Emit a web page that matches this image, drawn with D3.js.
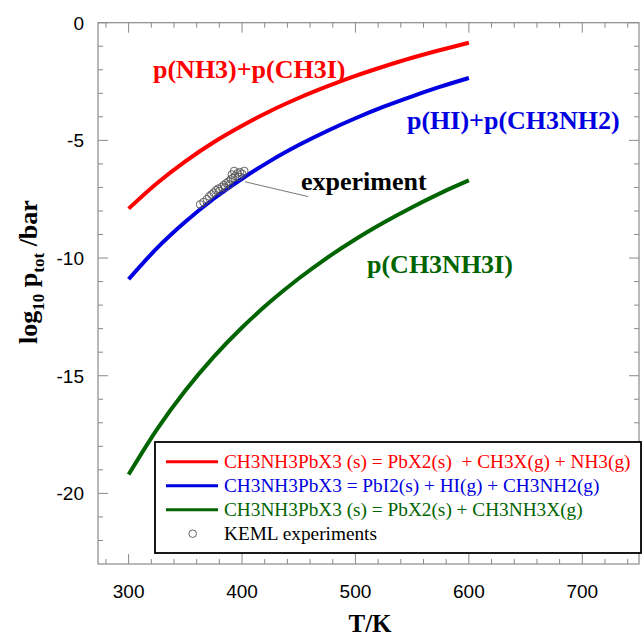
<!DOCTYPE html>
<html>
<head>
<meta charset="utf-8">
<script src="https://cdn.jsdelivr.net/npm/d3@7"></script>
<style>
  body { margin: 0; background: #fff; }
  svg { display: block; }
  .tick-label { font-family: "Liberation Sans", Arial, sans-serif; font-size: 19px; fill: #000; }
  .serif { font-family: "Liberation Serif", "Times New Roman", serif; }
</style>
</head>
<body>
<div id="chart"></div>
<script>
// temperatures (K) the model curves were read at
var temps = [300, 325, 350, 375, 400, 425, 450, 475, 500, 525, 550, 575, 600];
// log10 p / bar
var nh3Ch3i = [-7.9, -6.82, -5.89, -5.08, -4.38, -3.75, -3.2, -2.71, -2.26, -1.86, -1.49, -1.16, -0.85];
var hiCh3nh2 = [-10.9, -9.58, -8.46, -7.48, -6.63, -5.87, -5.2, -4.6, -4.06, -3.57, -3.13, -2.72, -2.35];
var ch3nh3i = [-19.2, -17.28, -15.63, -14.2, -12.95, -11.85, -10.87, -9.99, -9.2, -8.49, -7.84, -7.24, -6.7];

// KEML experiment points
var expT = [363, 366, 369, 371, 373, 375, 377, 379, 380, 382, 384, 385, 386, 388, 389, 390, 391, 392, 393, 394, 396, 397, 398, 400, 402];
var expP = [-7.72, -7.62, -7.5, -7.38, -7.3, -7.22, -7.12, -7.05, -7.15, -6.98, -6.9, -7.0, -6.82, -6.75, -6.88, -6.66, -6.45, -6.6, -6.3, -6.52, -6.4, -6.55, -6.35, -6.42, -6.3];

var xTicks = [300, 400, 500, 600, 700];
var yTicks = [0, -5, -10, -15, -20];

var legendLabels = [
  "CH3NH3PbX3 (s) = PbX2(s)  + CH3X(g) + NH3(g)",
  "CH3NH3PbX3 = PbI2(s) + HI(g) + CH3NH2(g)",
  "CH3NH3PbX3 (s) = PbX2(s) + CH3NH3X(g)",
  "KEML experiments"
];

var red = "#ff0000", blue = "#0000e0", green = "#006400";

var svgWidth = 643, svgHeight = 639;
var svg = d3.select("#chart").append("svg")
  .attr("width", svgWidth)
  .attr("height", svgHeight);

var x = d3.scaleLinear().domain([273, 750]).range([98, 639]);
var y = d3.scaleLinear().domain([-23, 0]).range([564, 22.7]);

var frameColor = "#8a8a8a";

// frame
svg.append("rect")
  .attr("x", x.range()[0]).attr("y", y.range()[1])
  .attr("width", x.range()[1] - x.range()[0])
  .attr("height", y.range()[0] - y.range()[1])
  .attr("fill", "none").attr("stroke", frameColor).attr("stroke-width", 1.2);

// tick marks on all four sides, pointing inward
var xMinor = d3.range(280, 750, 20);
var yMinor = d3.range(-22, 0.5, 1);
var ticksG = svg.append("g").attr("stroke", frameColor).attr("stroke-width", 1);

xMinor.forEach(function(t) {
  var len = xTicks.indexOf(t) >= 0 ? 10 : 5;
  ticksG.append("line").attr("x1", x(t)).attr("x2", x(t))
    .attr("y1", y.range()[0]).attr("y2", y.range()[0] - len);
  ticksG.append("line").attr("x1", x(t)).attr("x2", x(t))
    .attr("y1", y.range()[1]).attr("y2", y.range()[1] + len);
});
yMinor.forEach(function(v) {
  var len = yTicks.indexOf(v) >= 0 ? 10 : 5;
  ticksG.append("line").attr("y1", y(v)).attr("y2", y(v))
    .attr("x1", x.range()[0]).attr("x2", x.range()[0] + len);
  ticksG.append("line").attr("y1", y(v)).attr("y2", y(v))
    .attr("x1", x.range()[1]).attr("x2", x.range()[1] - len);
});

// tick labels
svg.append("g").selectAll("text").data(xTicks).enter().append("text")
  .attr("class", "tick-label")
  .attr("x", d => x(d)).attr("y", 598)
  .attr("text-anchor", "middle")
  .text(d => d);

svg.append("g").selectAll("text").data(yTicks).enter().append("text")
  .attr("class", "tick-label")
  .attr("x", 84).attr("y", d => y(d))
  .attr("dy", "0.36em")
  .attr("text-anchor", "end")
  .text(d => d);

// axis titles
svg.append("text").attr("class", "serif")
  .attr("x", 370).attr("y", 632)
  .attr("text-anchor", "middle")
  .style("font-size", "25px").style("font-weight", "bold")
  .text("T/K");

var yTitle = svg.append("text").attr("class", "serif")
  .attr("transform", "translate(37, 272) rotate(-90)")
  .attr("text-anchor", "middle")
  .style("font-size", "26px").style("font-weight", "bold");
yTitle.append("tspan").text("log");
yTitle.append("tspan").attr("dy", 7).style("font-size", "17px").text("10");
yTitle.append("tspan").attr("dy", -7).text(" p");
yTitle.append("tspan").attr("dy", 7).style("font-size", "17px").text("tot");
yTitle.append("tspan").attr("dy", -7).text(" /bar");

// curves
var line = d3.line()
  .x(d => x(d[0]))
  .y(d => y(d[1]))
  .curve(d3.curveMonotoneX);

var series = [
  { values: nh3Ch3i, color: red },
  { values: hiCh3nh2, color: blue },
  { values: ch3nh3i, color: green }
];
series.forEach(function(s) {
  svg.append("path")
    .datum(temps.map((t, i) => [t, s.values[i]]))
    .attr("fill", "none")
    .attr("stroke", s.color)
    .attr("stroke-width", 4)
    .attr("d", line);
});

// experiment points
svg.append("g").selectAll("circle")
  .data(expT.map((t, i) => [t, expP[i]]))
  .enter().append("circle")
  .attr("cx", d => x(d[0]))
  .attr("cy", d => y(d[1]))
  .attr("r", 3.8)
  .attr("fill", "none")
  .attr("stroke", "#555")
  .attr("stroke-width", 0.9);

// leader line to "experiment"
svg.append("line")
  .attr("x1", x(402.6)).attr("y1", y(-6.76))
  .attr("x2", x(458.4)).attr("y2", y(-7.39))
  .attr("stroke", "#777").attr("stroke-width", 1);

// curve labels
var curveLabels = [
  { text: "p(NH3)+p(CH3I)", color: red, x: 153, y: 78 },
  { text: "p(HI)+p(CH3NH2)", color: blue, x: 407, y: 129 },
  { text: "experiment", color: "#000", x: 301, y: 190 },
  { text: "p(CH3NH3I)", color: green, x: 367, y: 273 }
];
svg.append("g").selectAll("text").data(curveLabels).enter().append("text")
  .attr("class", "serif")
  .attr("x", d => d.x).attr("y", d => d.y)
  .attr("fill", d => d.color)
  .style("font-size", "26px").style("font-weight", "bold")
  .text(d => d.text);

// legend
var legend = svg.append("g");
legend.append("rect")
  .attr("x", 155).attr("y", 442)
  .attr("width", 486).attr("height", 111)
  .attr("fill", "#fff")
  .attr("stroke", "#000").attr("stroke-width", 1.8);

var legendColors = [red, blue, green, "#000"];
legendLabels.forEach(function(lab, i) {
  var cy = 461.7 + i * 24;
  if (i < 3) {
    legend.append("line")
      .attr("x1", 166).attr("x2", 218)
      .attr("y1", cy).attr("y2", cy)
      .attr("stroke", legendColors[i]).attr("stroke-width", 3);
  } else {
    legend.append("circle")
      .attr("cx", 192.7).attr("cy", cy)
      .attr("r", 3.8)
      .attr("fill", "none").attr("stroke", "#555").attr("stroke-width", 0.9);
  }
  legend.append("text").attr("class", "serif")
    .attr("x", 224).attr("y", cy + 6)
    .attr("fill", legendColors[i])
    .style("font-size", "19.3px")
    .style("white-space", "pre")
    .text(lab);
});
</script>
</body>
</html>
